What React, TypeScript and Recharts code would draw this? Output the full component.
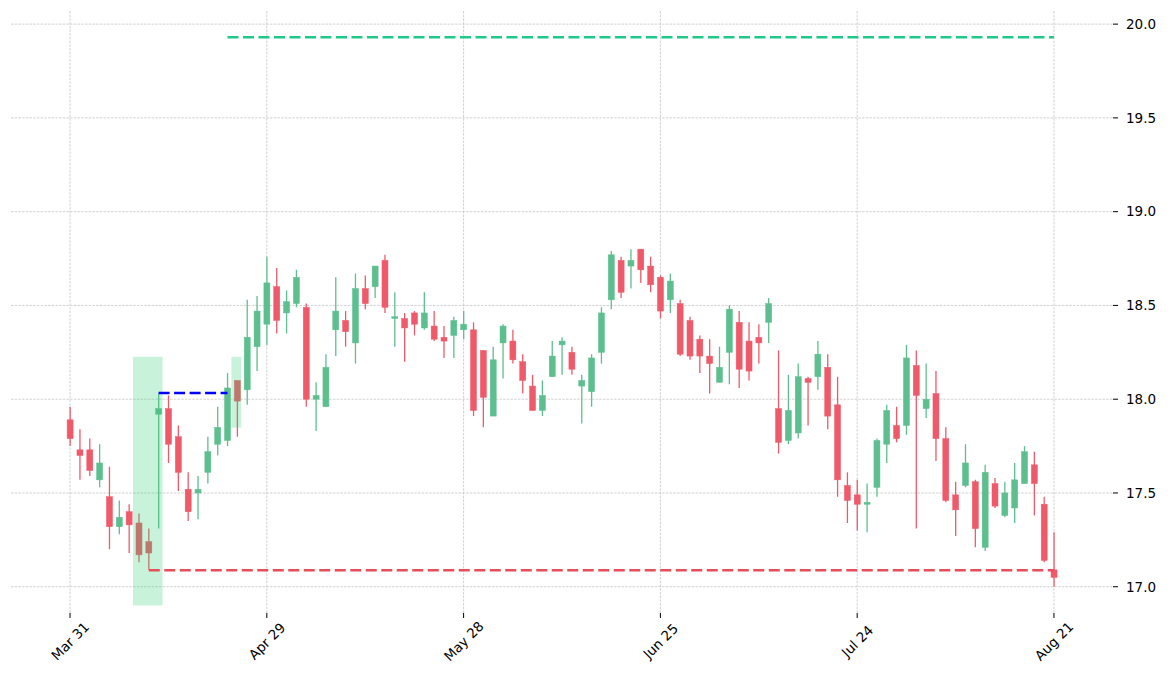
import React from "react";
import {
  ComposedChart,
  Bar,
  XAxis,
  YAxis,
  CartesianGrid,
  ReferenceArea,
  ReferenceLine,
} from "recharts";

// daily candles, index 0 = Mar 31
const opens = [
  17.89, 17.73, 17.73, 17.57, 17.48, 17.32, 17.4, 17.34, 17.24, 17.92,
  17.95, 17.8, 17.52, 17.5, 17.61, 17.76, 17.78, 18.1, 18.05, 18.28,
  18.4, 18.6, 18.46, 18.51, 18.49, 18.0, 17.96, 18.37, 18.42, 18.3,
  18.59, 18.6, 18.74, 18.43, 18.43, 18.46, 18.38, 18.39, 18.33, 18.34,
  18.37, 18.37, 18.26, 17.91, 18.3, 18.31, 18.2, 18.07, 17.94, 18.12,
  18.29, 18.25, 18.07, 18.04, 18.25, 18.53, 18.74, 18.71, 18.8, 18.71,
  18.65, 18.53, 18.51, 18.42, 18.32, 18.23, 18.09, 18.25, 18.41, 18.31,
  18.33, 18.41, 17.95, 17.78, 17.82, 18.11, 18.12, 18.17, 17.97, 17.54,
  17.49, 17.44, 17.53, 17.76, 17.86, 17.86, 18.18, 17.95, 18.03, 17.79,
  17.49, 17.54, 17.56, 17.21, 17.55, 17.38, 17.42, 17.55, 17.65, 17.44,
  17.09,
];
const highs = [
  17.96, 17.84, 17.79, 17.76, 17.64, 17.46, 17.44, 17.39, 17.31, 18.03,
  18.02, 17.86, 17.61, 17.59, 17.8, 17.96, 18.14, 18.1, 18.53, 18.55,
  18.76, 18.7, 18.58, 18.69, 18.51, 18.09, 18.24, 18.65, 18.47, 18.67,
  18.66, 18.71, 18.77, 18.57, 18.46, 18.47, 18.57, 18.47, 18.39, 18.44,
  18.47, 18.41, 18.26, 18.28, 18.4, 18.37, 18.24, 18.13, 18.1, 18.31,
  18.33, 18.28, 18.13, 18.24, 18.49, 18.79, 18.76, 18.8, 18.8, 18.76,
  18.66, 18.67, 18.53, 18.44, 18.34, 18.32, 18.28, 18.5, 18.47, 18.41,
  18.4, 18.54, 18.26, 18.13, 18.19, 18.12, 18.31, 18.24, 18.12, 17.61,
  17.57, 17.55, 17.79, 17.97, 17.96, 18.29, 18.26, 18.19, 18.15, 17.85,
  17.56, 17.76, 17.57, 17.65, 17.58, 17.56, 17.66, 17.75, 17.72, 17.48,
  17.29,
];
const lows = [
  17.75, 17.57, 17.59, 17.53, 17.2, 17.28, 17.18, 17.13, 17.09, 17.31,
  17.66, 17.51, 17.35, 17.36, 17.55, 17.7, 17.75, 17.8, 17.97, 18.15,
  18.29, 18.35, 18.35, 18.49, 17.96, 17.83, 17.96, 18.23, 18.28, 18.19,
  18.48, 18.54, 18.46, 18.28, 18.2, 18.34, 18.37, 18.31, 18.22, 18.22,
  18.32, 17.91, 17.85, 17.91, 18.11, 18.19, 18.03, 17.94, 17.91, 18.12,
  18.13, 18.13, 17.87, 17.96, 18.19, 18.48, 18.54, 18.59, 18.62, 18.57,
  18.43, 18.46, 18.23, 18.21, 18.14, 18.03, 18.09, 18.08, 18.06, 18.1,
  18.19, 18.3, 17.71, 17.76, 17.79, 17.86, 18.05, 17.84, 17.48, 17.34,
  17.3, 17.29, 17.48, 17.66, 17.77, 17.81, 17.31, 17.9, 17.67, 17.45,
  17.27, 17.53, 17.21, 17.19, 17.42, 17.37, 17.34, 17.55, 17.38, 17.13,
  17.0,
];
const closes = [
  17.79, 17.7, 17.62, 17.66, 17.32, 17.37, 17.33, 17.17, 17.18, 17.95,
  17.76, 17.61, 17.4, 17.52, 17.72, 17.85, 18.06, 17.99, 18.33, 18.47,
  18.62, 18.42, 18.52, 18.65, 18.0, 18.02, 18.17, 18.47, 18.36, 18.59,
  18.51, 18.71, 18.49, 18.44, 18.38, 18.4, 18.46, 18.32, 18.31, 18.42,
  18.4, 17.94, 18.01, 18.21, 18.39, 18.21, 18.1, 17.94, 18.02, 18.23,
  18.31, 18.16, 18.1, 18.22, 18.46, 18.77, 18.57, 18.74, 18.69, 18.61,
  18.47, 18.63, 18.24, 18.23, 18.23, 18.19, 18.17, 18.48, 18.16, 18.15,
  18.3, 18.51, 17.77, 17.94, 18.12, 18.09, 18.24, 17.91, 17.57, 17.46,
  17.44, 17.45, 17.78, 17.94, 17.79, 18.22, 18.02, 18.0, 17.79, 17.46,
  17.41, 17.66, 17.31, 17.61, 17.43, 17.5, 17.57, 17.72, 17.55, 17.14,
  17.05,
];

const tickIndex = [0, 20, 40, 60, 80, 100];
const tickLabels = ["Mar 31", "Apr 29", "May 28", "Jun 25", "Jul 24", "Aug 21"];
const priceTicks = [17.0, 17.5, 18.0, 18.5, 19.0, 19.5, 20.0];

// shaded zones: [x from, x to, price low, price high]
const zones = [
  [6.4, 9.4, 16.9, 18.226],
  [16.4, 17.4, 17.848, 18.226],
];
// dashed levels: [x from, x to, price, colour]
const levels: [number, number, number, string][] = [
  [9, 16, 18.033, "#0000ff"],
  [16, 100, 19.93, "#1fca88"],
  [8, 100, 17.088, "#e84d5c"],
];

const UP = "#5dbf8f";
const DOWN = "#ef5a6b";
const FONT = "DejaVu Sans, sans-serif";

const data = opens.map((o, i) => ({
  idx: i,
  open: o,
  high: highs[i],
  low: lows[i],
  close: closes[i],
  range: [lows[i], highs[i]],
}));

const Candle = (props: any) => {
  const { x, y, width, height, payload } = props;
  const { open, close, high, low } = payload;
  const color = close >= open ? UP : DOWN;
  const cx = x + width / 2;
  const k = high - low > 0 ? height / (high - low) : 0;
  const top = y + (high - Math.max(open, close)) * k;
  const bot = y + (high - Math.min(open, close)) * k;
  return (
    <g>
      <line x1={cx} x2={cx} y1={y} y2={y + height} stroke={color} strokeWidth={1.3} />
      <rect
        x={cx - 3}
        y={top}
        width={6}
        height={Math.max(bot - top, 1)}
        fill={color}
        stroke={color}
        strokeWidth={0.5}
      />
    </g>
  );
};

const DateTick = (props: any) => {
  const { x, y, payload } = props;
  const i = tickIndex.indexOf(payload.value);
  return (
    <g transform={`translate(${x},${y + 21}) rotate(-45)`}>
      <text
        x={0}
        y={0}
        textAnchor="middle"
        dominantBaseline="central"
        fill="#000"
        fontSize={13.5}
        fontFamily={FONT}
      >
        {tickLabels[i]}
      </text>
    </g>
  );
};

export default function App() {
  return (
    <div style={{ width: 1155, height: 663 }}>
      <ComposedChart
        width={1155}
        height={663}
        data={data}
        margin={{ top: 3, right: 0, left: 3, bottom: 0 }}
      >
        <CartesianGrid
          stroke="#bdbdbd"
          strokeWidth={0.7}
          strokeDasharray="2.5 1.2"
          horizontalValues={priceTicks}
          verticalValues={tickIndex}
        />
        <XAxis
          dataKey="idx"
          type="number"
          domain={[-6, 106]}
          allowDataOverflow
          ticks={tickIndex}
          height={58}
          axisLine={false}
          tickSize={5}
          tickLine={{ stroke: "#000" }}
          tick={<DateTick />}
        />
        <YAxis
          orientation="right"
          type="number"
          domain={[16.86, 20.07]}
          allowDataOverflow
          ticks={priceTicks}
          tickFormatter={(v: number) => v.toFixed(1)}
          width={50}
          axisLine={false}
          tickSize={5}
          tickMargin={8}
          tickLine={{ stroke: "#000" }}
          tick={{ fill: "#000", fontSize: 13.5, fontFamily: FONT }}
        />
        <Bar dataKey="range" barSize={6} shape={<Candle />} isAnimationActive={false} />
        {zones.map((z, i) => (
          <ReferenceArea
            key={`zone-${i}`}
            x1={z[0]}
            x2={z[1]}
            y1={z[2]}
            y2={z[3]}
            fill="#2ecc71"
            fillOpacity={0.26}
            stroke="none"
            ifOverflow="visible"
            zIndex={700}
          />
        ))}
        {levels.map((l, i) => (
          <ReferenceLine
            key={`level-${i}`}
            segment={[
              { x: l[0], y: l[2] },
              { x: l[1], y: l[2] },
            ]}
            stroke={l[3]}
            strokeWidth={2.7}
            strokeDasharray="11 4.5"
            ifOverflow="visible"
            zIndex={800}
          />
        ))}
      </ComposedChart>
    </div>
  );
}
